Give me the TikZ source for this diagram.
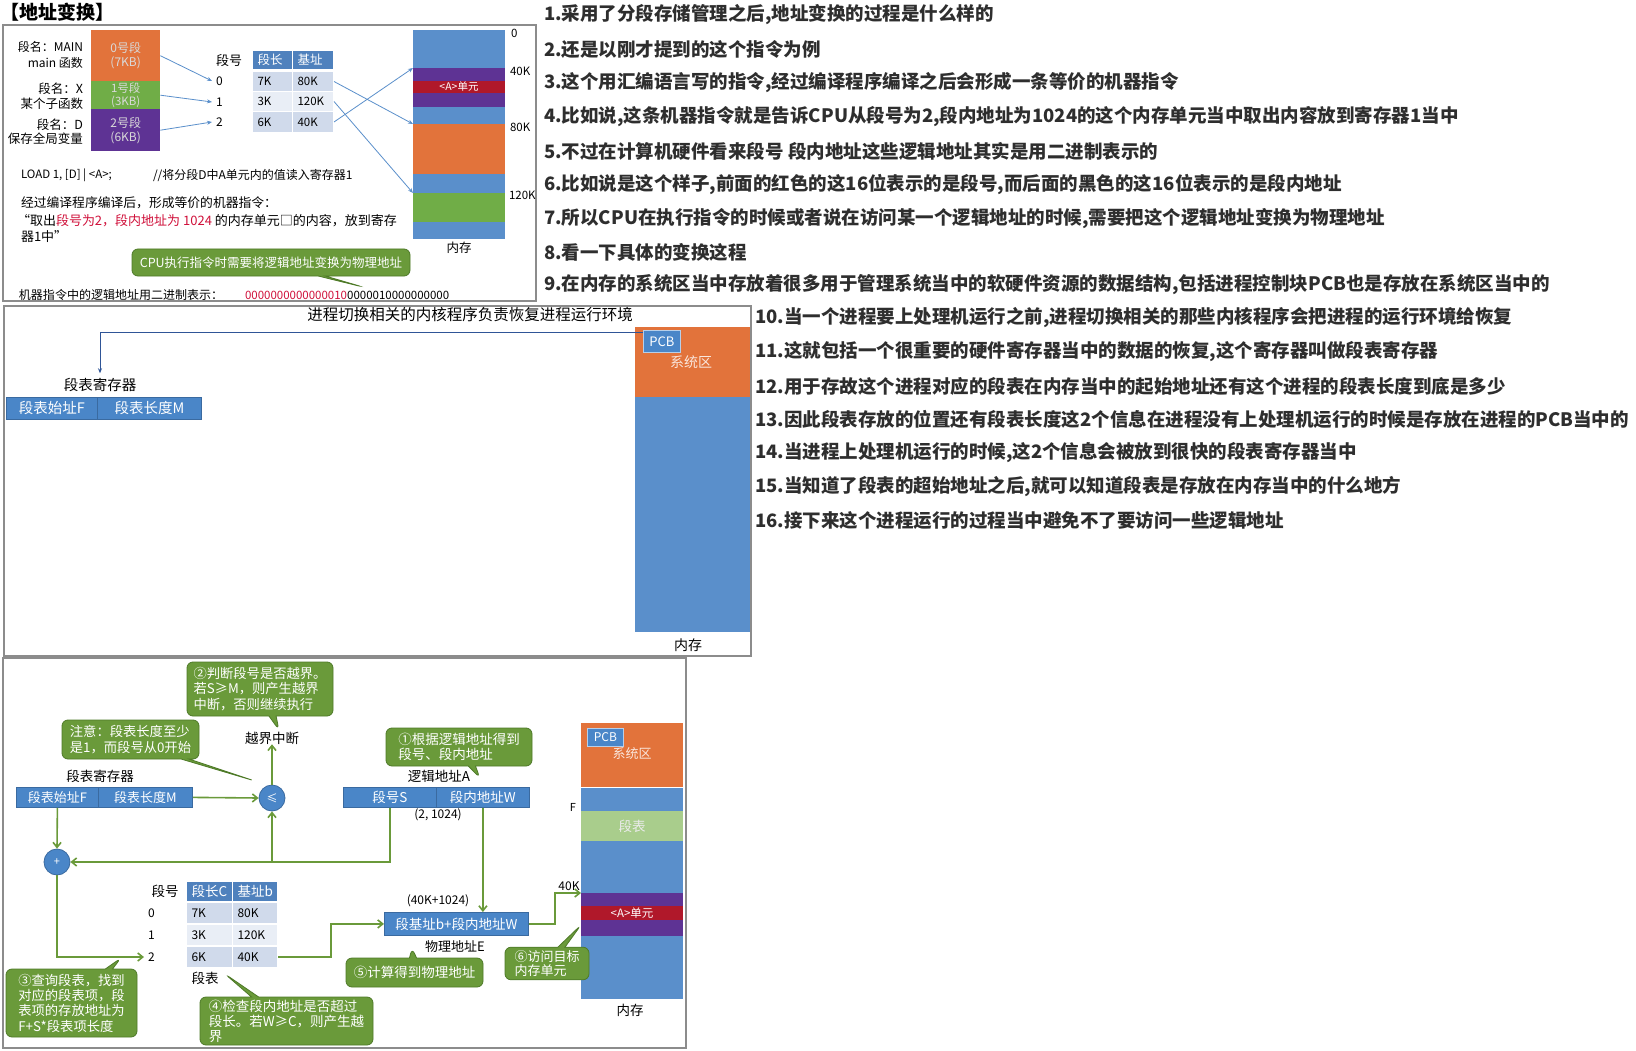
\documentclass[tikz,border=0pt]{standalone}
\usepackage{fontspec}
\setmainfont{Noto Sans CJK SC}
\usetikzlibrary{arrows.meta,calc,shapes.callouts}
\definecolor{memblue}{HTML}{5A8FCB}
\definecolor{memorange}{HTML}{E2733B}
\definecolor{memgreen}{HTML}{70AD47}
\definecolor{lightgreen}{HTML}{A9CD8C}
\definecolor{mempurple}{HTML}{5E3394}
\definecolor{memred}{HTML}{B0182A}
\definecolor{callgreen}{HTML}{6A9A3A}
\definecolor{callborder}{HTML}{4E7A28}
\definecolor{flowgreen}{HTML}{6A9A3A}
\definecolor{hdrblue}{HTML}{4F81BD}
\definecolor{rowdark}{HTML}{D0DAEB}
\definecolor{rowlight}{HTML}{E9EEF6}
\definecolor{regblue}{HTML}{4A86C8}
\definecolor{regborder}{HTML}{3A6AA0}
\definecolor{txtred}{HTML}{D0103A}
\definecolor{linkblue}{HTML}{2F5597}
\newcommand{\myfs}[2]{\fontsize{#1}{#2}\selectfont}
\tikzset{
  lbl/.style={inner sep=0, outer sep=0},
  memblk/.style={anchor=north west, inner sep=0, outer sep=0, minimum width=#1},
  panel/.style={draw=black!45, line width=1.2},
  segblk/.style={anchor=north west, inner sep=0, minimum width=69, text=white!85!black, align=center, font=\myfs{12}{14}},
  tcell/.style={anchor=north west, inner xsep=5, inner ysep=0, minimum height=#1, align=left, draw=white, line width=1},
  blueline/.style={draw=memblue, line width=0.8, -{Stealth[length=5,width=4]}},
  darkline/.style={draw=linkblue, line width=0.9, -{Stealth[length=5,width=4]}},
  flow/.style={draw=flowgreen, line width=1.6, -{Straight Barb[length=5,width=8]}},
  gcall/.style={rectangle callout, rounded corners=6, fill=callgreen, draw=callborder, line width=0.8, text=white, align=left, inner xsep=6, inner ysep=3, font=\myfs{13.3}{15.3}},
  regcell/.style={anchor=north west, fill=regblue, draw=regborder, line width=0.8, text=white, inner sep=0, minimum height=#1},
  opcirc/.style={circle, fill=regblue, draw=regborder, line width=0.8, minimum size=26, inner sep=0, text=white},
  listtxt/.style={anchor=west, inner sep=0, font=\myfs{18.5}{20}\bfseries, text=black!82},
}
\begin{document}
\begin{tikzpicture}[x=1pt,y=-1pt]
\useasboundingbox (0,0) rectangle (1636,1051);
\fill[white] (0,0) rectangle (1636,1051);

% ===== title
\node[lbl, anchor=west, font=\myfs{19}{20}\bfseries] (title) at (1,12) {【地址变换】};

% ===== top panel
\draw[panel] (3,25) rectangle (536,301);
\node[segblk, fill=memorange, minimum height=51] (s0) at (91,30) {0号段\\(7KB)};
\node[segblk, fill=memgreen, minimum height=28, font=\myfs{11.5}{13}] (s1) at (91,81) {1号段\\(3KB)};
\node[segblk, fill=mempurple, minimum height=42] (s2) at (91,109) {2号段\\(6KB)};

\node[lbl, anchor=east, font=\myfs{12}{14}] (na0) at (83,47) {段名：MAIN};
\node[lbl, anchor=east, font=\myfs{12}{14}] (nb0) at (83,63) {main 函数};
\node[lbl, anchor=east, font=\myfs{12.5}{14}] (na1) at (83,89) {段名：X};
\node[lbl, anchor=east, font=\myfs{12.5}{14}] (nb1) at (83,104) {某个子函数};
\node[lbl, anchor=east, font=\myfs{12.5}{14}] (na2) at (83,125) {段名：D};
\node[lbl, anchor=east, font=\myfs{12.5}{14}] (nb2) at (83,139) {保存全局变量};

\node[lbl, font=\myfs{13}{14}] (segno) at (229,61) {段号};
\node[lbl, anchor=west, font=\myfs{12}{14}] (k0) at (216,81) {0};
\node[lbl, anchor=west, font=\myfs{12}{14}] (k1) at (216,102) {1};
\node[lbl, anchor=west, font=\myfs{12}{14}] (k2) at (216,122) {2};

\node[tcell=19, fill=hdrblue, text width=30, text=white, font=\myfs{12.5}{14}] (th1) at (252,50) {段长};
\node[tcell=19, fill=hdrblue, text width=31, text=white, font=\myfs{12.5}{14}] (th2) at (292,50) {基址};
\node[tcell=20, fill=rowdark, text width=30, font=\myfs{11.5}{13}] (r0a) at (252,71) {7K};
\node[tcell=20, fill=rowdark, text width=31, font=\myfs{11.5}{13}] (r0b) at (292,71) {80K};
\node[tcell=20, fill=rowlight, text width=30, font=\myfs{11.5}{13}] (r1a) at (252,91) {3K};
\node[tcell=20, fill=rowlight, text width=31, font=\myfs{11.5}{13}] (r1b) at (292,91) {120K};
\node[tcell=21, fill=rowdark, text width=30, font=\myfs{11.5}{13}] (r2a) at (252,111) {6K};
\node[tcell=21, fill=rowdark, text width=31, font=\myfs{11.5}{13}] (r2b) at (292,111) {40K};

\draw[blueline] (s0.east) -- ($(k0.west)+(-4,0)$);
\draw[blueline] (s1.east) -- ($(k1.west)+(-4,0)$);
\draw[blueline] (s2.east) -- ($(k2.west)+(-4,0)$);

% memory (top)
\node[memblk=92, fill=memblue, minimum height=38] (ma1) at (413,30) {};
\node[memblk=92, fill=mempurple, minimum height=13] (ma2) at (413,68) {};
\node[memblk=92, fill=memred, minimum height=12, text=white, font=\myfs{10.5}{11}] (ma3) at (413,81) {<A>单元};
\node[memblk=92, fill=mempurple, minimum height=14] (ma4) at (413,93) {};
\node[memblk=92, fill=memblue, minimum height=17] (ma5) at (413,107) {};
\node[memblk=92, fill=memorange, minimum height=50] (ma6) at (413,124) {};
\node[memblk=92, fill=memblue, minimum height=19] (ma7) at (413,174) {};
\node[memblk=92, fill=memgreen, minimum height=29] (ma8) at (413,193) {};
\node[memblk=92, fill=memblue, minimum height=17] (ma9) at (413,222) {};

\draw[blueline] (r0b.east) -- (ma6.north west);
\draw[blueline] (r1b.east) -- (ma8.north west);
\draw[blueline] (r2b.east) -- (ma2.north west);

\node[lbl, anchor=west, font=\myfs{11.5}{13}] (lab0) at (511,33) {0};
\node[lbl, anchor=west, font=\myfs{11.5}{13}] (lab40) at (510,71) {40K};
\node[lbl, anchor=west, font=\myfs{11.5}{13}] (lab80) at (510,127) {80K};
\node[lbl, anchor=west, font=\myfs{11.5}{13}] (lab120) at (509,195) {120K};
\node[lbl, font=\myfs{12.5}{14}] (memlab1) at (459,248) {内存};

\node[lbl, anchor=west, font=\myfs{11.5}{13}] (load) at (21,175) {LOAD 1, [D] | <A>;};
\node[lbl, anchor=west, font=\myfs{12}{13}] (cmt) at (153,175) {//将分段D中A单元内的值读入寄存器1};
\node[lbl, anchor=west, font=\myfs{12.8}{14}] (comp) at (21,203) {经过编译程序编译后，形成等价的机器指令：};
\node[lbl, anchor=west, font=\myfs{13}{14}] (q1) at (17,221) {“取出\textcolor{txtred}{段号为2，段内地址为 1024} 的内存单元□的内容，放到寄存};
\node[lbl, anchor=west, font=\myfs{13}{14}] (q2) at (21,237) {器1中”};

\node[gcall, minimum width=278, minimum height=27, align=center, font=\myfs{12.5}{14}, callout absolute pointer={(363,287)}] (c0) at (271,262.5) {CPU执行指令时需要将逻辑地址变换为物理地址};

\node[lbl, anchor=west, font=\myfs{12}{14}] (bintxt) at (19,295) {机器指令中的逻辑地址用二进制表示：};
\node[lbl, anchor=west, font=\myfs{11.5}{13}] (bin) at (245,295) {\textcolor{txtred}{0000000000000010}0000010000000000};

% ===== middle panel
\draw[panel] (4,306) rectangle (751,656);
\node[lbl, font=\myfs{15.5}{17}] (mtitle) at (470,315) {进程切换相关的内核程序负责恢复进程运行环境};
\node[memblk=115, fill=memorange, minimum height=70] (mb1) at (635,327) {};
\node[memblk=115, fill=memblue, minimum height=235] (mb2) at (635,397) {};
\node[anchor=north west, fill=regblue, draw=white!60!regblue, line width=0.8, minimum width=37, minimum height=22, inner sep=0, text=white, font=\myfs{13}{14}] (pcb2) at (643,330) {PCB};
\node[lbl, text=white!82!memorange, font=\myfs{14}{15}] (sys2) at (691,362) {系统区};
\node[lbl, font=\myfs{14}{15}] (memlab2) at (688,645) {内存};
\node[lbl, font=\myfs{14.5}{16}] (rt2) at (100,385) {段表寄存器};
\node[regcell=22, minimum width=91, font=\myfs{14.5}{16}] (rf2) at (6,397) {段表始址F};
\node[regcell=22, minimum width=104, font=\myfs{14.5}{16}] (rm2) at (97,397) {段表长度M};
\draw[darkline] ($(pcb2.north west)+(0,2)$) -| ($(rt2.north)+(0,-5)$);

% ===== bottom panel
\draw[panel] (3,658) rectangle (686,1048);

\node[gcall, minimum width=146, minimum height=54, callout absolute pointer={(279,730)}] (c2) at (260,689) {②判断段号是否越界。\\若S≥M，则产生越界\\中断，否则继续执行};
\node[gcall, minimum width=137, minimum height=39, callout absolute pointer={(255,781)}, callout pointer width=8] (cnote) at (130.5,739.5) {注意：段表长度至少\\是1，而段号从0开始};
\node[lbl, font=\myfs{13.5}{15}] (cjie) at (272,738) {越界中断};
\node[opcirc, font=\myfs{11}{12}] (cmp) at (272,798) {≤};
\node[lbl, font=\myfs{13.5}{15}] (rt3) at (100,776) {段表寄存器};
\node[regcell=20, minimum width=82, font=\myfs{13}{14}] (rf3) at (16,787) {段表始址F};
\node[regcell=20, minimum width=94, font=\myfs{13}{14}] (rm3) at (98,787) {段表长度M};
\node[opcirc, font=\myfs{11}{12}] (plus) at (57,862) {+};

% logical address
\node[gcall, minimum width=146, minimum height=38, font=\myfs{13.5}{15.5}, callout absolute pointer={(480,778)}] (c1) at (459,747) {①根据逻辑地址得到\\段号、段内地址};
\node[lbl, font=\myfs{13.5}{15}] (laddr) at (439,776) {逻辑地址A};
\node[regcell=20, minimum width=93, font=\myfs{13.5}{15}] (segS) at (343,787) {段号S};
\node[regcell=20, minimum width=93, font=\myfs{13.5}{15}] (segW) at (436,787) {段内地址W};
\node[lbl, font=\myfs{12}{14}] (pair) at (438,815) {(2, 1024)};
\node[lbl, font=\myfs{12}{14}] (sum) at (438,901) {(40K+1024)};
\node[regcell=23, minimum width=144, font=\myfs{13.5}{15}] (phys) at (384,912) {段基址b+段内地址W};
\node[lbl, font=\myfs{13}{15}] (paddr) at (455,947) {物理地址E};

% segment table (bottom)
\node[lbl, font=\myfs{13.5}{15}] (segno3) at (165,891) {段号};
\node[lbl, anchor=west, font=\myfs{12}{14}] (t0n) at (148,913) {0};
\node[lbl, anchor=west, font=\myfs{12}{14}] (t1n) at (148,935) {1};
\node[lbl, anchor=west, font=\myfs{12}{14}] (t2n) at (148,957) {2};
\node[tcell=20, fill=hdrblue, text width=36, text=white, font=\myfs{13.5}{15}] (bh1) at (186,881) {段长C};
\node[tcell=20, fill=hdrblue, text width=35, text=white, font=\myfs{13.5}{15}] (bh2) at (232,881) {基址b};
\node[tcell=21, fill=rowdark, text width=36, font=\myfs{12}{14}] (b0a) at (186,902) {7K};
\node[tcell=21, fill=rowdark, text width=35, font=\myfs{12}{14}] (b0b) at (232,902) {80K};
\node[tcell=21, fill=rowlight, text width=36, font=\myfs{12}{14}] (b1a) at (186,924) {3K};
\node[tcell=21, fill=rowlight, text width=35, font=\myfs{12}{14}] (b1b) at (232,924) {120K};
\node[tcell=21, fill=rowdark, text width=36, font=\myfs{12}{14}] (b2a) at (186,946) {6K};
\node[tcell=21, fill=rowdark, text width=35, font=\myfs{12}{14}] (b2b) at (232,946) {40K};
\node[lbl, font=\myfs{13.5}{15}] (tblname) at (205,978) {段表};

% memory (bottom)
\node[memblk=102, fill=memorange, minimum height=64] (bo) at (581,723) {};
\node[memblk=102, fill=memblue, minimum height=23] (bb1) at (581,788) {};
\node[memblk=102, fill=lightgreen, minimum height=30, text=white!92!black, font=\myfs{13.5}{15}] (bg) at (581,811) {段表};
\node[memblk=102, fill=memblue, minimum height=52] (bb2) at (581,841) {};
\node[memblk=102, fill=mempurple, minimum height=13] (bp1) at (581,893) {};
\node[memblk=102, fill=memred, minimum height=14, text=white, font=\myfs{11.5}{12}] (br) at (581,906) {<A>单元};
\node[memblk=102, fill=mempurple, minimum height=16] (bp2) at (581,920) {};
\node[memblk=102, fill=memblue, minimum height=63] (bb3) at (581,936) {};
\node[anchor=north west, fill=regblue, draw=white!60!regblue, line width=0.8, minimum width=36, minimum height=18, inner sep=0, text=white, font=\myfs{12}{13}] (pcb3) at (587,728) {PCB};
\node[lbl, text=white!82!memorange, font=\myfs{13}{15}] (sys3) at (632,754) {系统区};
\node[lbl, font=\myfs{13.5}{15}] (memlab3) at (630,1010) {内存};
\node[lbl, font=\myfs{11}{12}] (flab) at (573,807) {F};
\node[lbl, font=\myfs{12}{14}] (k40) at (569,886) {40K};

% callouts 3-6
\node[gcall, minimum width=131, minimum height=68, callout absolute pointer={(121,958)}] (c3) at (71.5,1003) {③查询段表，找到\\对应的段表项，段\\表项的存放地址为\\F+S*段表项长度};
\node[gcall, minimum width=173, minimum height=48, inner ysep=1, font=\myfs{13.5}{15}, callout absolute pointer={(225,974)}] (c4) at (286.5,1021) {④检查段内地址是否超过\\段长。若W≥C，则产生越\\界};
\node[gcall, minimum width=137, minimum height=29, font=\myfs{13.5}{15}, callout absolute pointer={(412,948)}] (c5) at (414.5,972.5) {⑤计算得到物理地址};
\node[gcall, minimum width=84, minimum height=31, font=\myfs{13}{14.5}, callout absolute pointer={(581,925)}] (c6) at (547,963.5) {⑥访问目标\\内存单元};

% flow arrows
\draw[flow] (rm3.east) -- (cmp.west);
\draw[flow] (cmp.north) -- (cjie.south);
\draw[flow] (rf3.south) -- (plus.north);
\draw[flow] (segS.south) |- (plus.east);
\draw[flow] (cmp.south |- plus.east) -- (cmp.south);
\draw[flow, shorten >=4] (plus.south) |- (t2n.west);
\draw[flow] (segW.south) -- (segW.south |- phys.north);
\draw[flow] (b2b.east) -- ++(53,0) |- (phys.west);
\draw[flow] (phys.east) -- ++(26,0) |- (bp1.north west);

% ===== right-hand list
\node[listtxt] (l1) at (544,15) {1.采用了分段存储管理之后,地址变换的过程是什么样的};
\node[listtxt] (l2) at (544,49) {2.还是以刚才提到的这个指令为例};
\node[listtxt] (l3) at (544,83) {3.这个用汇编语言写的指令,经过编译程序编译之后会形成一条等价的机器指令};
\node[listtxt] (l4) at (544,117) {4.比如说,这条机器指令就是告诉CPU从段号为2,段内地址为1024的这个内存单元当中取出内容放到寄存器1当中};
\node[listtxt] (l5) at (544,151) {5.不过在计算机硬件看来段号 段内地址这些逻辑地址其实是用二进制表示的};
\node[listtxt] (l6) at (544,185) {6.比如说是这个样子,前面的红色的这16位表示的是段号,而后面的黑色的这16位表示的是段内地址};
\node[listtxt] (l7) at (544,219) {7.所以CPU在执行指令的时候或者说在访问某一个逻辑地址的时候,需要把这个逻辑地址变换为物理地址};
\node[listtxt] (l8) at (544,252) {8.看一下具体的变换这程};
\node[listtxt] (l9) at (544,285) {9.在内存的系统区当中存放着很多用于管理系统当中的软硬件资源的数据结构,包括进程控制块PCB也是存放在系统区当中的};
\node[listtxt] (l10) at (755,318) {10.当一个进程要上处理机运行之前,进程切换相关的那些内核程序会把进程的运行环境给恢复};
\node[listtxt] (l11) at (755,352) {11.这就包括一个很重要的硬件寄存器当中的数据的恢复,这个寄存器叫做段表寄存器};
\node[listtxt] (l12) at (755,386) {12.用于存故这个进程对应的段表在内存当中的起始地址还有这个进程的段表长度到底是多少};
\node[listtxt] (l13) at (755,419) {13.因此段表存放的位置还有段表长度这2个信息在进程没有上处理机运行的时候是存放在进程的PCB当中的};
\node[listtxt] (l14) at (755,453) {14.当进程上处理机运行的时候,这2个信息会被放到很快的段表寄存器当中};
\node[listtxt] (l15) at (755,487) {15.当知道了段表的超始地址之后,就可以知道段表是存放在内存当中的什么地方};
\node[listtxt] (l16) at (755,521) {16.接下来这个进程运行的过程当中避免不了要访问一些逻辑地址};
\end{tikzpicture}
\end{document}
